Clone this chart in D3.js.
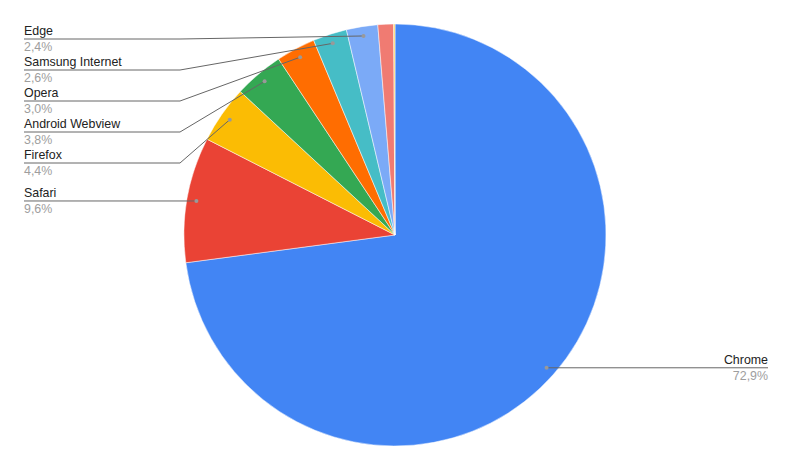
<!DOCTYPE html>
<html>
<head>
<meta charset="utf-8">
<script src="https://cdn.jsdelivr.net/npm/d3@7"></script>
<style>
  body{margin:0;background:#fff;}
  text{font-family:Arial,"Liberation Sans",sans-serif;}
</style>
</head>
<body>
<div id="chart"></div>
<script>
const browsers = ['Chrome','Safari','Firefox','Android Webview','Opera','Samsung Internet','Edge','Outros','Desconhecido'];
const shares   = [72.9, 9.6, 4.4, 3.8, 3.0, 2.6, 2.4, 1.2, 0.1];
const colors   = ['#4285f4','#ea4335','#fbbc04','#34a853','#ff6d01','#46bdc6','#7baaf7','#f07b72','#fcd04f'];

const W=791,H=470, cx=395, cy=235, R=211;
const fmt = v => v.toFixed(1).replace('.',',')+'%';

const svg=d3.select('#chart').append('svg').attr('width',W).attr('height',H);
const g=svg.append('g').attr('transform',`translate(${cx},${cy})`);

const data=browsers.map((b,i)=>({name:b,value:shares[i],color:colors[i]}));
const pie=d3.pie().value(d=>d.value).sort(null);
const arcs=pie(data);
const arc=d3.arc().innerRadius(0).outerRadius(R);
const anchorArc=d3.arc().innerRadius(R*0.955).outerRadius(R*0.955);

g.selectAll('path.slice').data(arcs).join('path')
  .attr('class','slice')
  .attr('d',arc)
  .attr('fill',d=>d.data.color)
  .attr('stroke','#fff').attr('stroke-width',0.5);

// labels: only slices >= 2%
const labeled=arcs.filter(d=>d.data.value>=2);
const left=labeled.filter(d=>(d.startAngle+d.endAngle)/2>Math.PI)
  .map(d=>({d,p:anchorArc.centroid(d)}))
  .sort((a,b)=>a.p[1]-b.p[1]);
const right=labeled.filter(d=>(d.startAngle+d.endAngle)/2<=Math.PI)
  .map(d=>({d,p:anchorArc.centroid(d)}))
  .sort((a,b)=>a.p[1]-b.p[1]);

const gap=31, minY=39;
let prev=-Infinity;
left.forEach(l=>{ l.y=Math.max(l.p[1]+cy, minY, prev+gap); prev=l.y; });
prev=-Infinity;
right.forEach(l=>{ l.y=Math.max(l.p[1]+cy, minY, prev+gap); prev=l.y; });

const lg=svg.append('g');
function drawLabel(l,side){
  const ax=l.p[0]+cx, ay=l.p[1]+cy;
  const x0 = side==='left'?24:768;
  const elbow = side==='left'?180:610;
  lg.append('path')
    .attr('d',`M${x0},${l.y}L${elbow},${l.y}L${ax},${ay}`)
    .attr('fill','none').attr('stroke','#666').attr('stroke-width',1);
  lg.append('circle').attr('cx',ax).attr('cy',ay).attr('r',2).attr('fill','#999');
  const anchor = side==='left'?'start':'end';
  lg.append('text').attr('x',x0).attr('y',l.y-4).attr('text-anchor',anchor)
    .attr('font-size',12.4).attr('fill','#222').text(l.d.data.name);
  lg.append('text').attr('x',x0).attr('y',l.y+12).attr('text-anchor',anchor)
    .attr('font-size',12.4).attr('fill','#9e9e9e').text(fmt(l.d.data.value));
}
left.forEach(l=>drawLabel(l,'left'));
right.forEach(l=>drawLabel(l,'right'));
</script>
</body>
</html>
